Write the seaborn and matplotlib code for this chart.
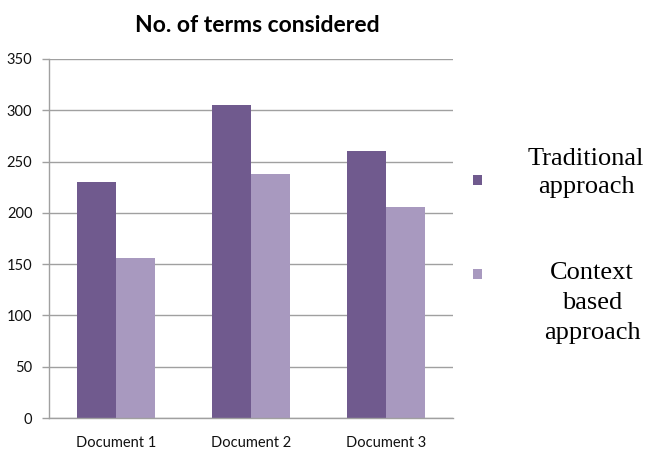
import matplotlib
matplotlib.use("Agg")
import matplotlib.pyplot as plt
import seaborn as sns
import pandas as pd
from matplotlib.patches import Rectangle

categories = ["Document 1", "Document 2", "Document 3"]
series_names = ["Traditional approach", "Context based approach"]
traditional = [230, 305, 260]
context_based = [156, 238, 206]
y_ticks = [0, 50, 100, 150, 200, 250, 300, 350]

df = pd.DataFrame({
    "doc": categories * 2,
    "series": [series_names[0]] * 3 + [series_names[1]] * 3,
    "value": traditional + context_based,
})

sns.set_theme(style="white")
plt.rcParams['font.family'] = ['Lato', 'DejaVu Sans']

colors = ["#705A8E", "#A899BF"]
fig = plt.figure(figsize=(6.46, 4.61), dpi=100)
ax = fig.add_axes([49/646, 43/461, 404/646, 359/461])

sns.barplot(data=df, x="doc", y="value", hue="series", palette=colors,
            width=0.58, gap=0, ax=ax, legend=False, saturation=1,
            edgecolor="none")

ax.set_ylim(0, 350)
ax.set_xlim(-0.5, 2.5)
ax.set_yticks(y_ticks)
ax.set_yticklabels([str(v) for v in y_ticks], fontsize=10.5, color="#111111")
ax.set_xticks(range(3))
ax.set_xticklabels(categories, fontsize=10.5, color="#111111")
ax.tick_params(axis="x", length=0, pad=13)
ax.tick_params(axis="y", length=5, width=1, color="#A0A0A0", pad=7, left=True)
ax.yaxis.grid(True, color="#A0A0A0", linewidth=1)
ax.set_axisbelow(True)
ax.set_xlabel("")
ax.set_ylabel("")
for s in ["top", "right"]:
    ax.spines[s].set_visible(False)
for s in ["left", "bottom"]:
    ax.spines[s].set_color("#A0A0A0")
    ax.spines[s].set_linewidth(1)

fig.text(257/646, 1 - 25/461, "No. of terms considered", ha="center", va="center",
         fontsize=16.5, fontweight="bold", color="#000000")

# legend
fig.patches.append(Rectangle((473/646, 1 - 185/461), 9/646, 10/461,
                             transform=fig.transFigure, facecolor=colors[0],
                             edgecolor="none"))
fig.patches.append(Rectangle((473/646, 1 - 279/461), 9/646, 10/461,
                             transform=fig.transFigure, facecolor=colors[1],
                             edgecolor="none"))
fig.text(586/646, 1 - 173/461, "Traditional\napproach", ha="center", va="center",
         fontsize=19, family="Liberation Serif", linespacing=1.4, color="#000000")
fig.text(592/646, 1 - 303/461, "Context\nbased\napproach", ha="center", va="center",
         fontsize=19, family="Liberation Serif", linespacing=1.45, color="#000000")

fig.savefig("out.png", dpi=100)
